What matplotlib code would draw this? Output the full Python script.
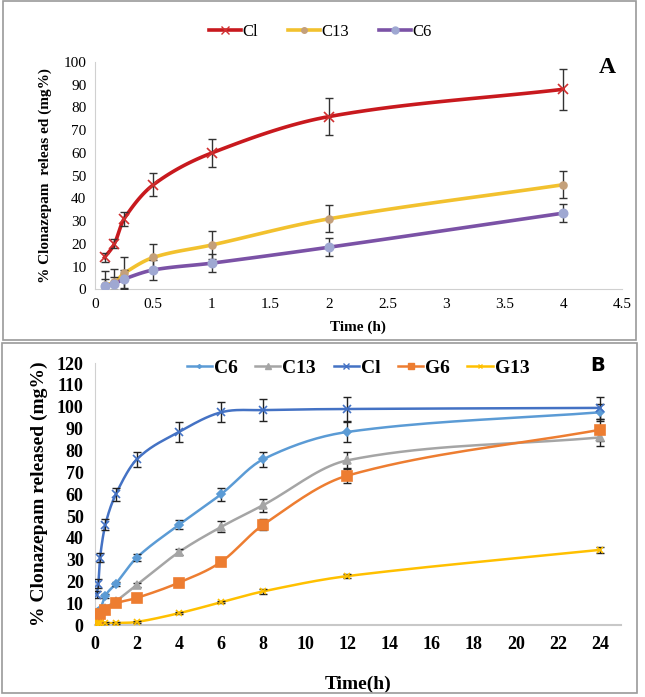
import numpy as np
import matplotlib
matplotlib.use("Agg")
import matplotlib.pyplot as plt
from matplotlib.patches import Rectangle

plt.rcParams['font.family'] = ['Liberation Serif', 'DejaVu Serif']

# Panel A data (time in h, % released, error)
t_a = [0.083, 0.167, 0.25, 0.5, 1, 2, 4]
cl_a = [14, 20, 31, 46, 60, 76, 88]
cl_a_err = [2, 2, 3, 5, 6, 8, 9]
c13_a = [2, 3, 7, 14, 19.5, 31, 46]
c13_a_err = [6, 6, 7, 6, 6, 6, 6]
c6_a = [1.5, 2.5, 4.5, 8.5, 11.5, 18.5, 33.5]
c6_a_err = [3, 3, 4, 4.5, 4, 4, 4]

# Panel B data
t_b = [0.083, 0.167, 0.25, 0.5, 1, 2, 4, 6, 8, 12, 24]
c6_b = [5, 6, 7, 13.5, 19, 31, 46, 60, 76, 88.5, 97.5]
c6_b_err = [1, 1, 1, 1, 1, 1.5, 2, 3, 3.5, 4.5, 4]
c13_b = [3, 4, 6, 8, 11, 18.5, 33.5, 45, 55, 75.5, 86]
c13_b_err = [1, 1, 1, 1, 1, 1, 1.5, 2.5, 3, 4, 4]
cl_b = [14, 19, 31, 46, 60, 76, 88.5, 97.5, 98.5, 99, 99.5]
cl_b_err = [1.5, 2, 2, 2.5, 3, 3.5, 4.5, 4.5, 5, 5.5, 5]
g6_b = [3, 4, 5, 7, 10, 12.5, 19.5, 29, 46, 68.5, 89.5]
g6_b_err = [1, 1, 1, 1, 1, 1, 1, 1.5, 2.5, 3.5, 5]
g13_b = [0.5, 0.8, 1, 1, 1, 1.5, 5.5, 10.5, 15.5, 22.5, 34.5]
g13_b_err = [0.3, 0.3, 0.3, 0.3, 0.3, 0.3, 0.5, 0.5, 1, 1, 1.5]


def smooth(x, y, n=20):
    # Catmull-Rom style curve through the points (like Excel smoothed lines)
    x = np.asarray(x, float)
    y = np.asarray(y, float)
    px = np.concatenate([[2 * x[0] - x[1]], x, [2 * x[-1] - x[-2]]])
    py = np.concatenate([[2 * y[0] - y[1]], y, [2 * y[-1] - y[-2]]])
    xs, ys = [], []
    s = np.linspace(0, 1, n)
    for i in range(1, len(px) - 2):
        x0, x1, x2, x3 = px[i - 1:i + 3]
        y0, y1, y2, y3 = py[i - 1:i + 3]
        d = x2 - x1
        k1 = d / max(x2 - x0, 1e-9) / 3
        k2 = d / max(x3 - x1, 1e-9) / 3
        b0 = (1 - s) ** 3
        b1 = 3 * s * (1 - s) ** 2
        b2 = 3 * s ** 2 * (1 - s)
        b3 = s ** 3
        xs.append(b0 * x1 + b1 * (x1 + (x2 - x0) * k1) + b2 * (x2 - (x3 - x1) * k2) + b3 * x2)
        ys.append(b0 * y1 + b1 * (y1 + (y2 - y0) * k1) + b2 * (y2 - (y3 - y1) * k2) + b3 * y2)
    return np.concatenate(xs), np.concatenate(ys)


fig = plt.figure(figsize=(6.45, 6.97), dpi=100)

# panel frames
fig.patches.append(Rectangle((0.004, 0.512), 0.982, 0.486, transform=fig.transFigure,
                             fill=False, edgecolor='#9a9a9a', lw=1.2))
fig.patches.append(Rectangle((0.003, 0.006), 0.984, 0.502, transform=fig.transFigure,
                             fill=False, edgecolor='#9a9a9a', lw=1.2))

# ---------------- Panel A ----------------
axA = fig.add_axes([0.147, 0.585, 0.817, 0.326])
seriesA = [
    ('Cl', cl_a, cl_a_err, '#C8191E', 'x', '#D03030', 7),
    ('C13', c13_a, c13_a_err, '#F2C12E', 'o', '#C4A07A', 5),
    ('C6', c6_a, c6_a_err, '#7B52A6', 'o', '#9FA8D2', 6),
]
handlesA = []
for name, y, e, col, mk, mcol, ms in seriesA:
    sx, sy = smooth(t_a, y)
    axA.plot(sx, sy, color=col, lw=2.6, zorder=2)
    axA.errorbar(t_a, y, yerr=e, fmt='none', ecolor='#333333', elinewidth=1,
                 capsize=3, zorder=3)
    axA.plot(t_a, y, ls='none', marker=mk, color=mcol, ms=ms, mew=1.2, zorder=4)
    h, = axA.plot([], [], color=col, lw=2.6, marker=mk, ms=ms - 1, mfc=mcol, mec=mcol,
                  label=name)
    handlesA.append(h)

axA.set_xlim(0, 4.5)
axA.set_ylim(0, 100)
axA.set_xticks(np.arange(0, 4.51, 0.5))
axA.set_xticklabels(['0', '0.5', '1', '1.5', '2', '2.5', '3', '3.5', '4', '4.5'])
axA.set_yticks(np.arange(0, 101, 10))
axA.tick_params(length=0, labelsize=11, pad=6)
for s in ['top', 'right']:
    axA.spines[s].set_visible(False)
for s in ['left', 'bottom']:
    axA.spines[s].set_color('#d0d0d0')
axA.set_xlabel('Time (h)', fontsize=11, fontweight='bold', labelpad=7)
axA.set_ylabel('% Clonazepam  releas ed (mg%)', fontsize=11, fontweight='bold', labelpad=8)
axA.text(0.973, 0.974, 'A', transform=axA.transAxes, fontsize=17, fontweight='bold',
         ha='center', va='center')
fig.legend(handles=handlesA, loc='center', bbox_to_anchor=(0.497, 0.954), ncol=3,
           frameon=False, fontsize=12, handlelength=1.9, columnspacing=1.8,
           handletextpad=0.1)

# ---------------- Panel B ----------------
axB = fig.add_axes([0.147, 0.103, 0.816, 0.376])
seriesB = [
    ('C6', c6_b, c6_b_err, '#5B9BD5', 'D', 4),
    ('C13', c13_b, c13_b_err, '#A5A5A5', '^', 6),
    ('Cl', cl_b, cl_b_err, '#4472C4', 'x', 6),
    ('G6', g6_b, g6_b_err, '#ED7D31', 's', 7),
    ('G13', g13_b, g13_b_err, '#FFC000', 'x', 5),
]
handlesB = []
for name, y, e, col, mk, ms in seriesB:
    sx, sy = smooth(t_b, y)
    axB.plot(sx, sy, color=col, lw=1.8, zorder=2)
    axB.errorbar(t_b, y, yerr=e, fmt='none', ecolor='#222222', elinewidth=1,
                 capsize=3, zorder=3)
    axB.plot(t_b, y, ls='none', marker=mk, color=col, ms=ms, mew=1.2, zorder=4)
    h, = axB.plot([], [], color=col, lw=1.8, marker=mk, ms=ms - 2, label=name)
    handlesB.append(h)

axB.set_xlim(0, 25)
axB.set_ylim(0, 120)
axB.set_xticks(np.arange(0, 25, 2))
axB.set_yticks(np.arange(0, 121, 10))
axB.tick_params(length=0, labelsize=13, pad=8)
for lab in axB.get_xticklabels() + axB.get_yticklabels():
    lab.set_fontweight('bold')
for s in ['top', 'right']:
    axB.spines[s].set_visible(False)
axB.spines['left'].set_color('#d0d0d0')
axB.spines['bottom'].set_color('#c8c8c8')
axB.spines['bottom'].set_linewidth(1.5)
axB.set_xlabel('Time(h)', fontsize=14, fontweight='bold', labelpad=16)
axB.set_ylabel('% Clonazepam released (mg%)', fontsize=14, fontweight='bold', labelpad=6)
axB.text(0.955, 0.99, 'B', transform=axB.transAxes, fontsize=14, fontweight='bold',
         family='DejaVu Sans', ha='center', va='center')
axB.legend(handles=handlesB, loc='center', bbox_to_anchor=(0.5, 0.982), ncol=5,
           frameon=False, prop={'weight': 'bold', 'size': 14},
           handlelength=1.3, columnspacing=0.9, handletextpad=0.1)

fig.savefig('out.png', dpi=100)
